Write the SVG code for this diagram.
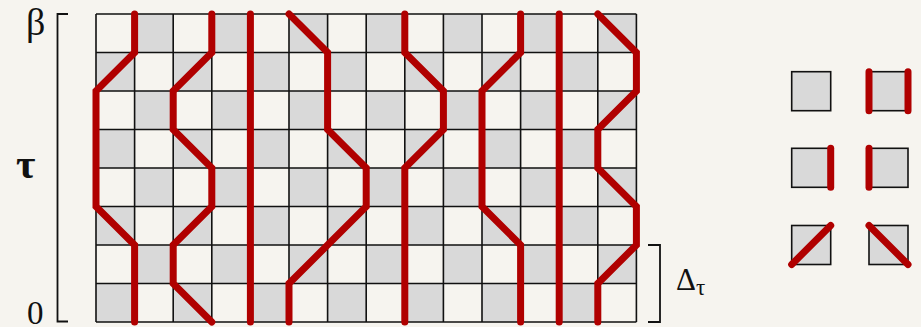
<svg xmlns="http://www.w3.org/2000/svg" width="921" height="327" viewBox="0 0 921 327">
<style>
.line{fill:none;stroke:#B00000;stroke-width:7;stroke-linecap:round;stroke-linejoin:miter}
.gridline{fill:none;stroke:#111;stroke-width:1.6}
.cell{fill:#D9D9D9;stroke:#111;stroke-width:1.6}
.lbl{font-family:"Liberation Serif","DejaVu Serif",serif;fill:#111}
.br{fill:none;stroke:#111;stroke-width:1.8}
</style>
<defs>
<pattern id="checker" patternUnits="userSpaceOnUse" x="96" y="14" width="77.2" height="77">
<rect x="38.6" y="0" width="38.6" height="38.5" fill="#D9D9D9"/>
<rect x="0" y="38.5" width="38.6" height="38.5" fill="#D9D9D9"/>
</pattern>
</defs>
<rect width="921" height="327" fill="#F6F4EF"/>
<g id="grid">
<rect x="96" y="14" width="540.4" height="308" fill="url(#checker)"/>
<path class="gridline" d="M96,14V322M134.6,14V322M173.2,14V322M211.8,14V322M250.4,14V322M289,14V322M327.6,14V322M366.2,14V322M404.8,14V322M443.4,14V322M482,14V322M520.6,14V322M559.2,14V322M597.8,14V322M636.4,14V322M96,14H636.4M96,52.5H636.4M96,91H636.4M96,129.5H636.4M96,168H636.4M96,206.5H636.4M96,245H636.4M96,283.5H636.4M96,322H636.4"/>
</g>
<g id="worldlines">
<path class="line" d="M134.6,14V52.5L96,91V206.5L134.6,245V322"/>
<path class="line" d="M211.8,14V52.5L173.2,91V129.5L211.8,168V206.5L173.2,245V283.5L211.8,322"/>
<path class="line" d="M250.4,14V322"/>
<path class="line" d="M289,14L327.6,52.5V129.5L366.2,168V206.5L289,283.5V322"/>
<path class="line" d="M404.8,14V52.5L443.4,91V129.5L404.8,168V322"/>
<path class="line" d="M520.6,14V52.5L482,91V206.5L520.6,245V322"/>
<path class="line" d="M559.2,14V322"/>
<path class="line" d="M597.8,14L636.4,52.5V91L597.8,129.5V168L636.4,206.5V245L597.8,283.5V322"/>
</g>
<g id="axis">
<path class="br" d="M68,14H57.5V321.5H68"/>
<text class="lbl" x="26" y="35" font-size="38">β</text>
<text class="lbl" x="16" y="178" font-size="42" font-weight="bold">τ</text>
<text class="lbl" x="27" y="324" font-size="33">0</text>
</g>
<g id="delta">
<path class="br" d="M648,245H660V322H648"/>
<text class="lbl" x="676" y="290" font-size="31">Δ<tspan font-size="23" dy="5">τ</tspan></text>
</g>
<g id="legend">
<g id="leg1"><rect class="cell" x="791.7" y="71.7" width="39" height="39"/></g>
<g id="leg2"><rect class="cell" x="869" y="71.7" width="39" height="39"/>
<path class="line" d="M869,71.7V110.7M908,71.7V110.7"/></g>
<g id="leg3"><rect class="cell" x="791.7" y="148.3" width="39" height="39"/>
<path class="line" d="M830.7,148.3V187.3"/></g>
<g id="leg4"><rect class="cell" x="869" y="148.3" width="39" height="39"/>
<path class="line" d="M869,148.3V187.3"/></g>
<g id="leg5"><rect class="cell" x="791.7" y="225.5" width="39" height="39"/>
<path class="line" d="M791.7,264.5L830.7,225.5"/></g>
<g id="leg6"><rect class="cell" x="869" y="225.5" width="39" height="39"/>
<path class="line" d="M869,225.5L908,264.5"/></g>
</g>
</svg>
